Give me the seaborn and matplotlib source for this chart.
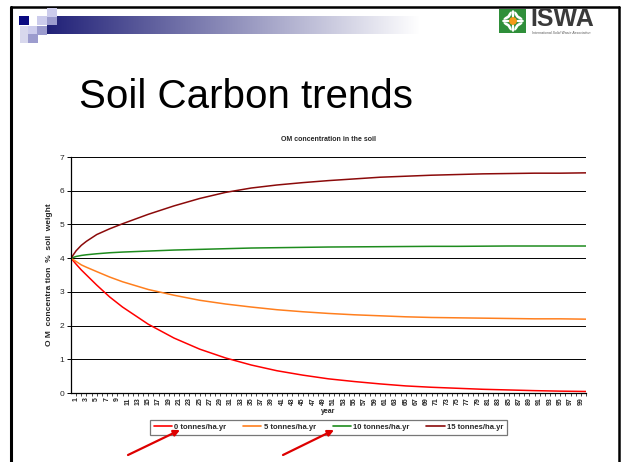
import numpy as np
import pandas as pd
import seaborn as sns
import matplotlib.pyplot as plt
from matplotlib.patches import Rectangle, Ellipse, Circle

# values (OM concentration, % soil weight)
years = [0, 1, 2, 3, 5, 7.5, 10, 15, 20, 25, 30, 35, 40, 45, 50,
         55, 60, 65, 70, 75, 80, 85, 90, 95, 100]
om_0t = [4.0, 3.82, 3.65, 3.5, 3.2, 2.85, 2.55, 2.04, 1.63, 1.30, 1.04, 0.83, 0.66,
         0.53, 0.42, 0.34, 0.27, 0.21, 0.17, 0.14, 0.11, 0.09, 0.07, 0.055, 0.045]
om_5t = [4.0, 3.9, 3.8, 3.73, 3.6, 3.44, 3.3, 3.07, 2.9, 2.75, 2.64, 2.55, 2.47,
         2.41, 2.36, 2.32, 2.29, 2.26, 2.24, 2.23, 2.22, 2.21, 2.2, 2.2, 2.19]
om_10t = [4.0, 4.05, 4.08, 4.1, 4.13, 4.16, 4.18, 4.21, 4.24, 4.26, 4.28, 4.3, 4.31,
          4.32, 4.33, 4.335, 4.34, 4.345, 4.35, 4.35, 4.355, 4.36, 4.36, 4.36, 4.36]
om_15t = [4.0, 4.22, 4.38, 4.5, 4.7, 4.87, 5.02, 5.3, 5.55, 5.77, 5.95, 6.08, 6.17,
          6.24, 6.30, 6.35, 6.40, 6.43, 6.46, 6.48, 6.50, 6.51, 6.52, 6.52, 6.53]
series_names = ['0 tonnes/ha.yr', '5 tonnes/ha.yr', '10 tonnes/ha.yr', '15 tonnes/ha.yr']
series_colors = ['#ff0000', '#ff7f1e', '#1e8c1e', '#8b0a0a']
tick_years = list(range(1, 101))

df = pd.DataFrame({'year': years * 4,
                   'om': om_0t + om_5t + om_10t + om_15t,
                   'rate': np.repeat(series_names, len(years))})

sns.set_theme(style='white')
plt.rcParams['font.family'] = ['Liberation Sans', 'DejaVu Sans']

W, H = 621, 462
fig = plt.figure(figsize=(W / 100, H / 100), dpi=100)

# slide decoration layer in pixel coordinates
deco = fig.add_axes([0, 0, 1, 1], zorder=0)
deco.set_xlim(0, W)
deco.set_ylim(H, 0)
deco.axis('off')

# border
deco.plot([11, 11], [7, H], color='black', lw=2.2)
deco.plot([11, 619], [7, 7], color='black', lw=1.8)
deco.plot([619, 619], [7, H], color='black', lw=1.8)

# header gradient bar + squares
grad = np.linspace(0, 1, 300)
navy = np.array([0.13, 0.13, 0.47])
rgb = navy[None, :] * (1 - grad[:, None]) + np.ones(3)[None, :] * grad[:, None]
deco.imshow(rgb[None, :, :], extent=[47, 420, 34, 16], aspect='auto', zorder=1)
for (x0, y0, c) in [(19, 16, '#0a0a80'), (37, 16, '#ccccec'), (47, 16, '#9c9cce'),
                    (47, 8, '#ccccec'), (28, 26, '#ccccec'), (37, 26, '#9c9cce'),
                    (28, 34, '#9c9cce')]:
    deco.add_patch(Rectangle((x0, y0), 10, 9, color=c, lw=0, zorder=2))
deco.imshow(np.array([[[1, 1, 1], [0.85, 0.85, 0.93]]]), extent=[13, 28, 43, 26],
            aspect='auto', zorder=1)

# ISWA logo
deco.add_patch(Rectangle((499, 9), 27, 24, color='#2f8f3a', lw=0, zorder=2))
for ang in np.arange(0, 360, 30):
    dx, dy = 7 * np.cos(np.radians(ang)), 7 * np.sin(np.radians(ang))
    deco.add_patch(Ellipse((513 + dx, 21 + dy), 8, 2.6, angle=-ang, color='white', lw=0, zorder=3))
deco.add_patch(Circle((513, 21), 3.2, color='#f59a1a', zorder=4))
deco.text(530, 26.5, 'ISWA', fontsize=18, fontweight='bold', color='#3a3a3a',
          va='baseline', ha='left')
deco.text(532, 33.5, 'International Solid Waste Association', fontsize=2.5, style='italic',
          color='#555555', va='center', ha='left')

# slide title
deco.text(79, 97, 'Soil Carbon trends', fontsize=29, color='black', va='center', ha='left')

# chart
ax = fig.add_axes([71 / W, 1 - 393 / H, 515 / W, 236 / H], zorder=1)
sns.lineplot(data=df, x='year', y='om', hue='rate', palette=series_colors,
             hue_order=series_names, linewidth=1.1, ax=ax)
ax.set_xlim(0, 100)
ax.set_ylim(0, 7)
ax.set_yticks(range(0, 8))
ax.grid(axis='y', color='black', lw=0.7)
ax.grid(axis='x', visible=False)
for s in ['top', 'right']:
    ax.spines[s].set_visible(False)
for s in ['left', 'bottom']:
    ax.spines[s].set_color('black')
    ax.spines[s].set_linewidth(0.9)
ax.tick_params(axis='y', labelsize=6, length=3, width=0.7, left=True, color='black', pad=2)
ax.set_xticks(tick_years)
ax.set_xticklabels([str(y) if y % 2 == 1 else '' for y in tick_years],
                   rotation=90, fontsize=5, fontweight='bold')
ax.tick_params(axis='x', length=2, width=0.5, bottom=True, color='black', pad=1)
ax.set_xlabel('year', fontsize=5, fontweight='bold')
ax.xaxis.set_label_coords(0.5, -0.065)
ax.set_ylabel('O M  concentra tion  %  soil  weight', fontsize=6, fontweight='bold')
ax.yaxis.set_label_coords(-0.035, 0.5)
ax.text(0.5, 1.076, 'OM concentration in the soil', transform=ax.transAxes,
        fontsize=5, fontweight='bold', ha='center', va='center')

ax.legend(loc='center', bbox_to_anchor=(0.5, -0.146), ncol=4, frameon=True,
          fancybox=False, edgecolor='#555555', prop={'size': 5.5, 'weight': 'bold'},
          handlelength=2.4, handletextpad=0.3, columnspacing=2.2, borderpad=0.5)
ax.get_legend().get_frame().set_linewidth(0.9)
for line in ax.get_legend().get_lines():
    line.set_linewidth(1.2)

# red arrows pointing at the legend, drawn on top
top = fig.add_axes([0, 0, 1, 1], zorder=5)
top.set_xlim(0, W)
top.set_ylim(H, 0)
top.axis('off')
top.patch.set_alpha(0)
for (x0, y0, x1, y1) in [(128, 455, 180, 430), (283, 455, 334, 430)]:
    top.annotate('', xy=(x1, y1), xytext=(x0, y0),
                 arrowprops=dict(arrowstyle='-|>', color='#dd0000', lw=1.6,
                                 mutation_scale=9, shrinkA=0, shrinkB=0))

fig.savefig('out.png', dpi=100)
